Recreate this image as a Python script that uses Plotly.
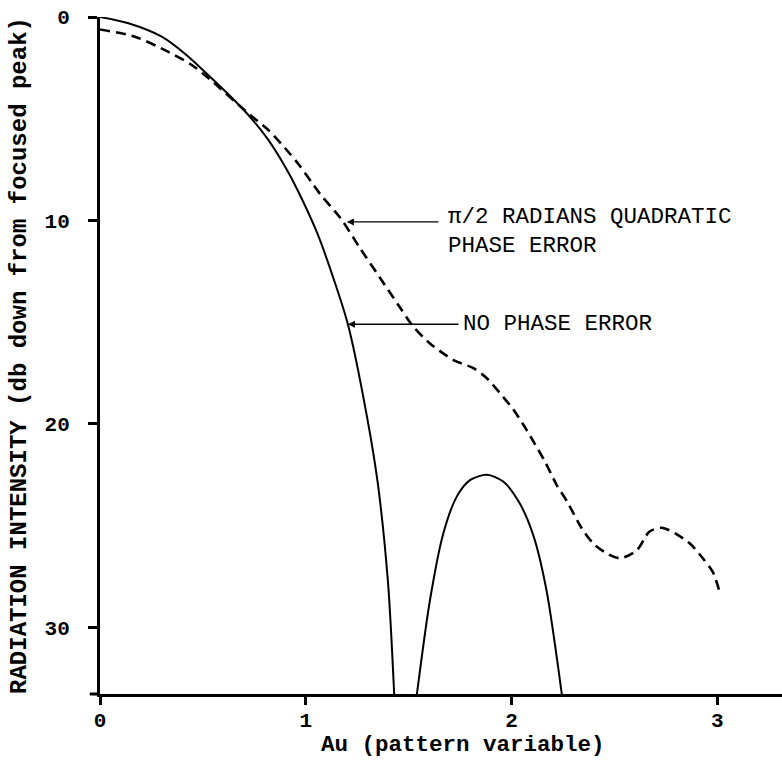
import plotly.graph_objects as go

# ---- data ----
au_main = [0.0, 0.138, 0.30, 0.43, 0.51, 0.624, 0.737, 0.818, 0.90, 0.96, 1.055, 1.13, 1.205, 1.297, 1.35, 1.40, 1.43]
db_main = [0.0, 0.31, 0.97, 1.95, 2.7, 3.8, 5.0, 6.04, 7.36, 8.5, 10.6, 12.7, 15.1, 19.6, 22.9, 27.8, 33.3]

au_side = [1.54, 1.604, 1.669, 1.734, 1.80, 1.88, 1.96, 2.04, 2.107, 2.17, 2.245]
db_side = [33.3, 28.65, 25.37, 23.57, 22.75, 22.5, 22.83, 23.9, 25.5, 28.16, 33.3]

au_phase = [0.0, 0.17, 0.33, 0.446, 0.527, 0.72, 0.818, 0.90, 0.97, 1.07, 1.17, 1.26, 1.36, 1.46,
            1.523, 1.604, 1.718, 1.815, 1.88, 1.945, 2.01, 2.074, 2.107, 2.163, 2.22, 2.27, 2.34,
            2.40, 2.47, 2.53, 2.61, 2.67, 2.73, 2.80, 2.87, 2.93, 2.98, 3.01]
db_phase = [0.61, 0.97, 1.70, 2.36, 3.0, 4.73, 5.55, 6.45, 7.3, 8.7, 9.9, 11.3, 12.8, 14.3,
            15.22, 16.04, 16.86, 17.26, 17.75, 18.5, 19.3, 20.3, 20.87, 21.85, 23.0, 23.8, 25.1,
            25.9, 26.4, 26.6, 26.2, 25.3, 25.1, 25.4, 25.9, 26.6, 27.3, 28.2]

x_ticks = [0, 1, 2, 3]
y_ticks = [0, 10, 20, 30]

label_phase = ["\u03c0/2 RADIANS QUADRATIC", "PHASE ERROR"]
label_none = "NO PHASE ERROR"
x_title = "Au (pattern variable)"
y_title = "RADIATION INTENSITY (db down from focused peak)"

FONT = "Liberation Mono"

fig = go.Figure()
fig.add_trace(go.Scatter(x=au_main, y=db_main, mode="lines",
                         line=dict(color="black", width=2, shape="spline", smoothing=0.8),
                         showlegend=False, hoverinfo="skip"))
fig.add_trace(go.Scatter(x=au_side, y=db_side, mode="lines",
                         line=dict(color="black", width=2, shape="spline", smoothing=0.8),
                         showlegend=False, hoverinfo="skip"))
fig.add_trace(go.Scatter(x=au_phase, y=db_phase, mode="lines",
                         line=dict(color="black", width=2.6, dash="10px,6px",
                                   shape="spline", smoothing=0.8),
                         showlegend=False, hoverinfo="skip"))

# leader arrows
fig.add_annotation(x=1.20, y=10.07, xref="x", yref="y", text="", showarrow=True,
                   ax=93, ay=0, arrowhead=2, arrowsize=1, arrowwidth=1.4, arrowcolor="black")
fig.add_annotation(x=1.205, y=15.1, xref="x", yref="y", text="", showarrow=True,
                   ax=112, ay=0, arrowhead=2, arrowsize=1, arrowwidth=1.4, arrowcolor="black")

# labels
fig.add_annotation(x=1.683, y=10.55, xref="x", yref="y", text="<br>".join(label_phase),
                   showarrow=False, align="left",
                   xanchor="left", yanchor="middle", font=dict(family=FONT, size=22.5, color="black"))
fig.add_annotation(x=1.755, y=15.1, xref="x", yref="y", text=label_none, showarrow=False,
                   xanchor="left", yanchor="middle", font=dict(family=FONT, size=22.5, color="black"))

# x-axis title
fig.add_annotation(x=1.765, y=-0.076, xref="x", yref="paper", text=x_title, showarrow=False,
                   xanchor="center", yanchor="middle",
                   font=dict(family=FONT, size=22.5, color="black", weight="bold"))

# small overhang of the x-axis line to the left of the y-axis
fig.add_shape(type="line", xref="paper", yref="paper", x0=-0.015, x1=0, y0=0, y1=0,
              line=dict(color="black", width=3))

fig.update_xaxes(range=[0, 3.315], tickvals=x_ticks, ticktext=[str(v) for v in x_ticks],
                 showgrid=False, zeroline=False, showline=True, linecolor="black", linewidth=3,
                 ticks="outside", ticklen=8, tickwidth=2.5, tickcolor="black",
                 ticklabelstandoff=-3,
                 tickfont=dict(family=FONT, size=21, color="black", weight="bold"))
fig.update_yaxes(range=[33.27, 0], tickvals=y_ticks, ticktext=[str(v) for v in y_ticks],
                 showgrid=False, zeroline=False, showline=True, linecolor="black", linewidth=3,
                 ticks="outside", ticklen=9, tickwidth=2.5, tickcolor="black",
                 ticklabelstandoff=14,
                 tickfont=dict(family=FONT, size=21, color="black", weight="bold"),
                 title=dict(text=y_title, standoff=12,
                            font=dict(family=FONT, size=24, color="black", weight="bold")))

fig.update_layout(width=782, height=769, margin=dict(l=100, r=0, t=17, b=75),
                  paper_bgcolor="white", plot_bgcolor="white", showlegend=False)

fig.write_html("out.html")
